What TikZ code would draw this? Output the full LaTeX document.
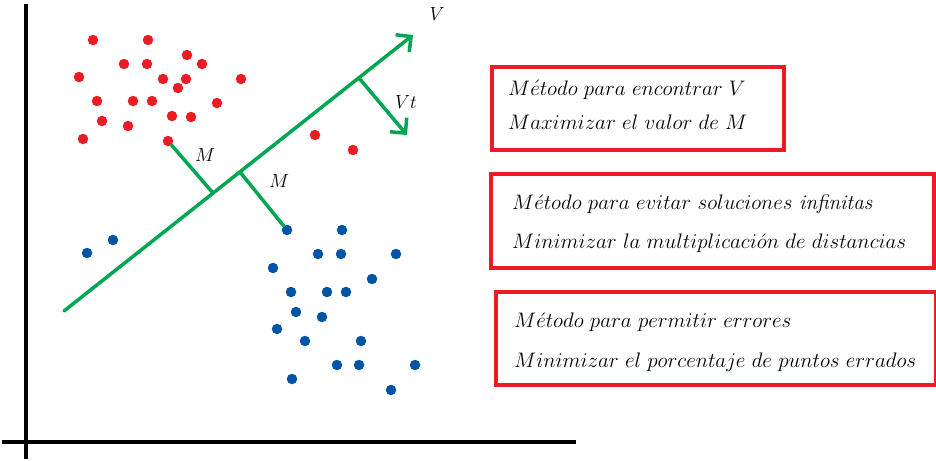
\RequirePackage{fix-cm}
\documentclass[tikz,border=0pt]{standalone}
\usetikzlibrary{arrows.meta}
\definecolor{gr}{RGB}{0,166,81}
\definecolor{rd}{RGB}{237,28,36}
\definecolor{bl}{RGB}{0,84,166}
\begin{document}
\begin{tikzpicture}[x=1pt,y=-1pt,
  reddot/.style={circle,fill=rd,minimum size=10.5pt,inner sep=0pt},
  bluedot/.style={circle,fill=bl,minimum size=10.5pt,inner sep=0pt},
  axisline/.style={line width=3.5pt,black},
  gline/.style={line width=3.5pt,gr,line cap=round},
  garrow/.style={gline,-{Straight Barb[length=11pt,width=22pt]}},
  redbox/.style={draw=rd,line width=4pt,inner sep=0pt,anchor=north west},
  txt/.style={anchor=base west,inner sep=0pt,font=\fontsize{21}{25}\selectfont},
  lbl/.style={inner sep=0pt,font=\fontsize{19}{23}\selectfont}]
\useasboundingbox (0,0) rectangle (936,460);
% axes
\coordinate (ay0) at (26,4);
\coordinate (ay1) at (26,459);
\coordinate (ax0) at (2,442);
\coordinate (ax1) at (576,442);
\draw[axisline] (ay0) -- (ay1);
\draw[axisline] (ax0) -- (ax1);
% red dots
\foreach \i/\x/\y in {1/93/40,2/148/40,3/187/55,4/124/64,5/147/64,6/202/64,7/79/77,8/163/79,9/186/79,10/241/79,11/178/88,12/97/101,13/133/101,14/152/101,15/217/103,16/102/121,17/172/116,18/191/117,19/128/126,20/83/139,21/168/141,22/315/135,23/353/150}
  \node[reddot] (r\i) at (\x,\y) {};
% blue dots
\foreach \i/\x/\y in {1/87/253,2/113/240,3/287/230,4/342/230,5/318/254,6/341/254,7/396/254,8/273/268,9/372/279,10/291/292,11/327/292,12/346/292,13/296/312,14/322/317,15/277/329,16/305/341,17/361/341,18/337/365,19/359/365,20/415/365,21/292/379,22/391/390}
  \node[bluedot] (b\i) at (\x,\y) {};
% green lines
\coordinate (g0) at (64,311);
\coordinate (g1) at (413,35);
\coordinate (p1) at (213,193);
\coordinate (p2) at (240,172);
\coordinate (p3) at (359,78);
\coordinate (vt) at (407,135);
\draw[garrow] (g0) -- (g1);
\draw[garrow] (p3) -- (vt);
\draw[gline] (r21) -- (p1);
\draw[gline] (p2) -- (b3);
% labels
\node[lbl] (lV) at (437,14) {$V$};
\node[lbl] (lVt) at (406,102) {$Vt$};
\node[lbl] (lM1) at (205,155) {$M$};
\node[lbl] (lM2) at (279,181) {$M$};
% boxes
\node[redbox,minimum width=292pt,minimum height=83pt] (box1) at (490,65) {};
\node[redbox,minimum width=443pt,minimum height=94pt] (box2) at (489,172) {};
\node[redbox,minimum width=440pt,minimum height=93pt] (box3) at (494,290) {};
\node[txt] (t11) at (508,95) {$M\acute{e}todo\ para\ encontrar\ V$};
\node[txt] (t12) at (508,129) {$Maximizar\ el\ valor\ de\ M$};
\node[txt] (t21) at (512,209) {$M\acute{e}todo\ para\ evitar\ soluciones\ \textit{infinitas}$};
\node[txt] (t22) at (512,248) {$Minimizar\ la\ multiplicaci\acute{o}n\ de\ distancias$};
\node[txt] (t31) at (514,327) {$M\acute{e}todo\ para\ permitir\ errores$};
\node[txt] (t32) at (514,367) {$Minimizar\ el\ porcentaje\ de\ puntos\ errados$};
\end{tikzpicture}
\end{document}
